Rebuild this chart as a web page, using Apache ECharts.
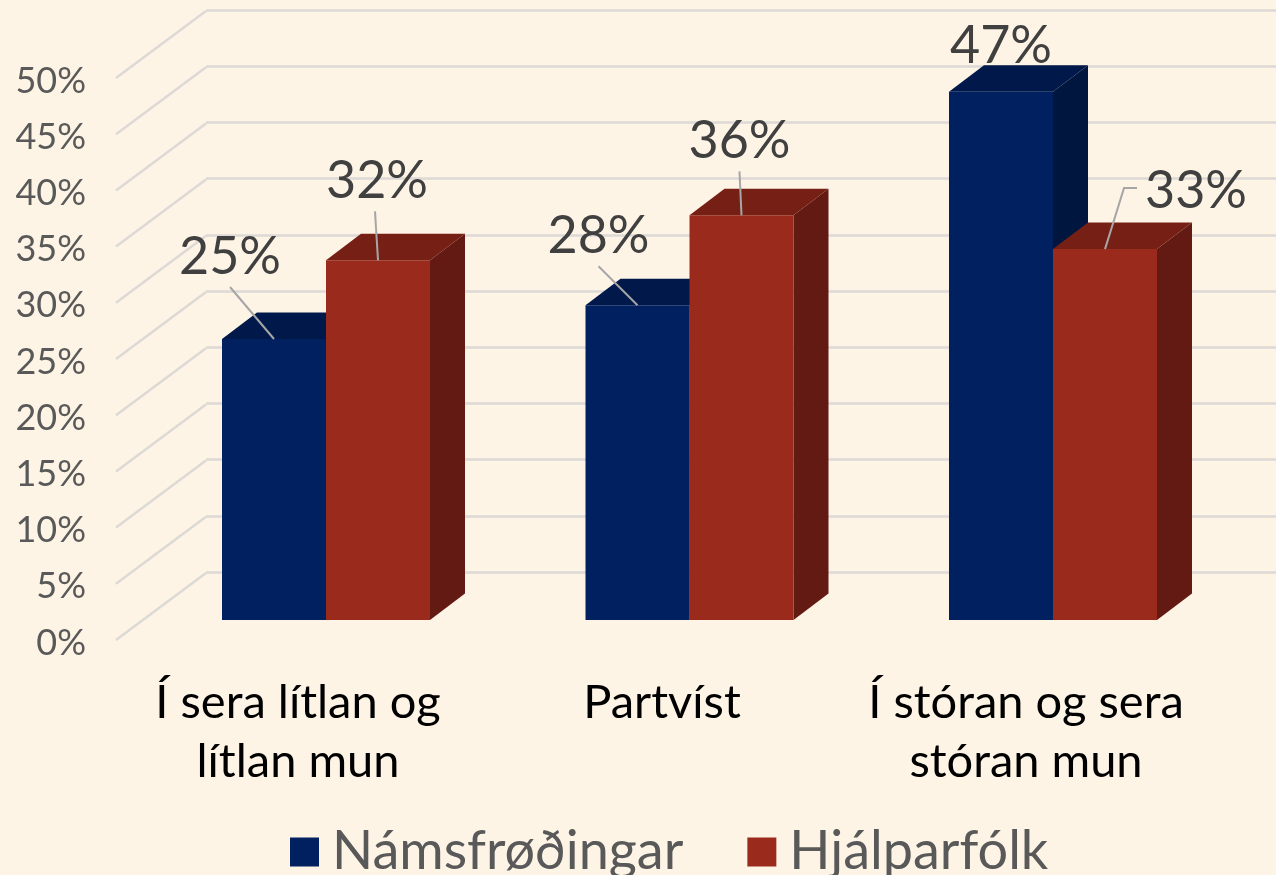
<!DOCTYPE html>
<html>
<head>
<meta charset="utf-8">
<style>html,body{margin:0;padding:0;background:#fef4e6}</style>
<script src="https://cdn.jsdelivr.net/npm/echarts@6/dist/echarts.min.js"></script>
</head>
<body>
<div id="main" style="width:1276px;height:875px"></div>
<script>
var categories = ['Í sera lítlan og\nlítlan mun', 'Partvíst', 'Í stóran og sera\nstóran mun'];
var namsfrodingar = [25, 28, 47];
var hjalparfolk = [32, 36, 33];
var yTicks = [0, 5, 10, 15, 20, 25, 30, 35, 40, 45, 50];

// where the value labels sit, relative to the top middle of each bar
var navyLabelPos = [[-44, -83], [-39, -70], [0, -46]];
var redLabelPos = [[-1, -80], [-2, -75], [91, -59]];
// leader lines, same origin
var navyLeader = [[[-44, -52]], [[-39, -39]], null];
var redLeader = [[[-3, -49]], [[-2, -44]], [[19, -61], [32, -61]]];

var font = 'Lato';
var depthX = 35, depthY = 26.5;

function barRenderer(side, colors, labelPos, leader) {
  return function (params, api) {
    var i = api.value(0);
    var top = api.coord([i, api.value(1)]);
    var base = api.coord([i, 0]);
    var w = api.size([1, 0])[0] * 0.2861;
    var x0 = top[0] + (side < 0 ? -w : 0), x1 = x0 + w;
    var y0 = top[1], y1 = base[1];
    var cx = (x0 + x1) / 2;
    var children = [
      { type: 'polygon', shape: { points: [[x1, y0], [x1 + depthX, y0 - depthY], [x1 + depthX, y1 - depthY], [x1, y1]] }, style: { fill: colors[2] } },
      { type: 'polygon', shape: { points: [[x0, y0], [x0 + depthX, y0 - depthY], [x1 + depthX, y0 - depthY], [x1, y0]] }, style: { fill: colors[1] } },
      { type: 'rect', shape: { x: x0, y: y0, width: w, height: y1 - y0 }, style: { fill: colors[0] } }
    ];
    if (leader[i]) {
      var pts = [[cx, y0]].concat(leader[i].map(function (p) { return [cx + p[0], y0 + p[1]]; }));
      children.push({ type: 'polyline', shape: { points: pts }, style: { fill: null, stroke: '#a6a6a6', lineWidth: 2 } });
    }
    children.push({
      type: 'text',
      style: {
        x: cx + labelPos[i][0], y: y0 + labelPos[i][1] + 1,
        text: api.value(1) + '%', align: 'center', verticalAlign: 'middle',
        font: '52px ' + font, fill: '#404040'
      }
    });
    return { type: 'group', children: children };
  };
}

// the tick labels sit 3px below the front ends of the floor lines
function diagonalRenderer(params, api) {
  var p = api.coord([0, api.value(0)]);
  var x = params.coordSys.x;
  return {
    type: 'line',
    shape: { x1: x, y1: p[1] - 3, x2: x + 90, y2: p[1] - 70 },
    style: { stroke: '#dcd9d6', lineWidth: 2.5 }
  };
}

var myChart = echarts.init(document.getElementById('main'));

var option = {
  backgroundColor: '#fef4e6',
  animation: false,
  legend: {
    left: 285,
    top: 820,
    itemWidth: 29,
    itemHeight: 29,
    itemGap: 64,
    icon: 'rect',
    textStyle: { fontFamily: font, fontSize: 54, color: '#595959', padding: [0, 0, 0, 8] },
    data: [
      { name: 'Námsfrøðingar', itemStyle: { color: '#002060' } },
      { name: 'Hjálparfólk', itemStyle: { color: '#9a2b1c' } }
    ]
  },
  grid: [
    { left: 116, width: 1092, top: 81, bottom: 232 },   // front edge, carries the labels
    { left: 206, right: 0, top: 10, bottom: 303 },      // back wall
    { left: 144.25, width: 1090.5, top: 58, bottom: 255 }    // plane of the bars
  ],
  xAxis: [
    {
      type: 'category', gridIndex: 0, data: categories,
      axisLine: { show: false }, axisTick: { show: false }, splitLine: { show: false },
      axisLabel: { interval: 0, margin: 30, lineHeight: 59, fontFamily: font, fontSize: 47, color: '#000' }
    },
    { type: 'category', gridIndex: 1, data: categories, show: false },
    { type: 'category', gridIndex: 2, data: categories, show: false }
  ],
  yAxis: [
    {
      type: 'value', gridIndex: 0, min: 0, max: 50, interval: 5,
      axisLine: { show: false }, axisTick: { show: false }, splitLine: { show: false },
      axisLabel: { margin: 30, formatter: '{value}%', fontFamily: font, fontSize: 36, color: '#595959' }
    },
    {
      type: 'value', gridIndex: 1, min: 0, max: 50, interval: 5,
      axisLine: { show: false }, axisTick: { show: false }, axisLabel: { show: false },
      splitLine: { show: true, lineStyle: { color: '#dcd9d6', width: 2.5 } }
    },
    { type: 'value', gridIndex: 2, min: 0, max: 50, show: false, splitLine: { show: false } }
  ],
  series: [
    {
      type: 'custom', xAxisIndex: 0, yAxisIndex: 0, silent: true, clip: false,
      encode: { y: 0 },
      data: yTicks.map(function (v) { return [v]; }),
      renderItem: diagonalRenderer
    },
    {
      name: 'Námsfrøðingar', type: 'custom', xAxisIndex: 2, yAxisIndex: 2, clip: false,
      encode: { x: 0, y: 1 },
      itemStyle: { color: '#002060' },
      data: namsfrodingar.map(function (v, i) { return [i, v]; }),
      renderItem: barRenderer(-1, ['#002060', '#00194a', '#00163f'], navyLabelPos, navyLeader)
    },
    {
      name: 'Hjálparfólk', type: 'custom', xAxisIndex: 2, yAxisIndex: 2, clip: false,
      encode: { x: 0, y: 1 },
      itemStyle: { color: '#9a2b1c' },
      data: hjalparfolk.map(function (v, i) { return [i, v]; }),
      renderItem: barRenderer(1, ['#9a2b1c', '#762015', '#621a12'], redLabelPos, redLeader)
    }
  ]
};

myChart.setOption(option);
</script>
</body>
</html>
